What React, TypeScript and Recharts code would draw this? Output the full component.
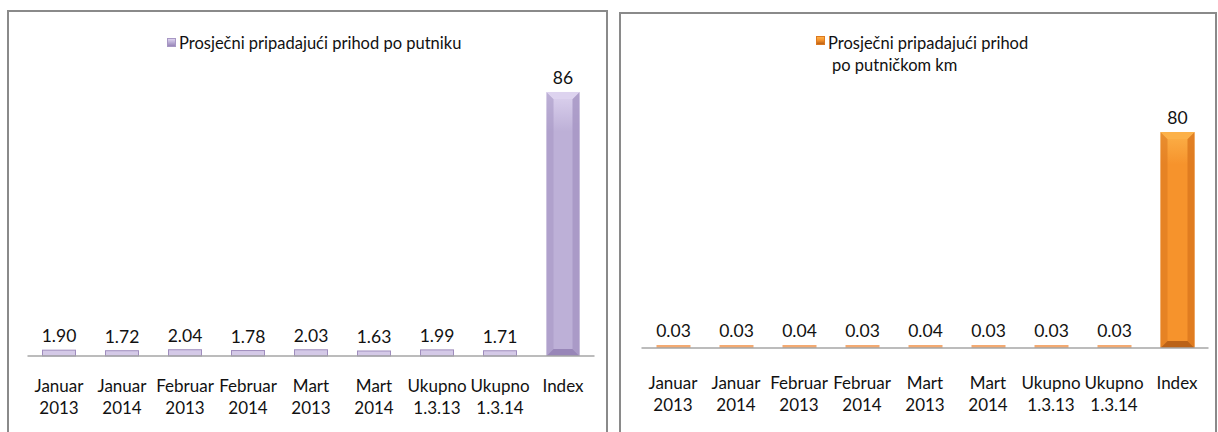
import { Bar, BarChart, LabelList, Legend, XAxis, YAxis } from "recharts";

const categories = [
  "Januar 2013",
  "Januar 2014",
  "Februar 2013",
  "Februar 2014",
  "Mart 2013",
  "Mart 2014",
  "Ukupno 1.3.13",
  "Ukupno 1.3.14",
  "Index",
];
const perPassenger = [1.9, 1.72, 2.04, 1.78, 2.03, 1.63, 1.99, 1.71, 86];
const perPassengerKm = [0.03, 0.03, 0.04, 0.03, 0.04, 0.03, 0.03, 0.03, 80];

const leftData = categories.map((name, i) => ({ name, value: perPassenger[i] }));
const rightData = categories.map((name, i) => ({ name, value: perPassengerKm[i] }));

const FONT = "Lato, 'Open Sans', sans-serif";

const fmt = (v: number) => (v >= 10 ? String(Math.round(v)) : v.toFixed(2));

type Palette = {
  id: string;
  center: string;
  side: string;
  top: string;
  bottom: string;
  small: string;
  smallStroke?: string;
};

const lavender: Palette = {
  id: "lav",
  center: "#bdb0d7",
  side: "#a797c4",
  top: "#ddd3ef",
  bottom: "#9886b8",
  small: "#d4c9e7",
  smallStroke: "#9f8dbd",
};

const orange: Palette = {
  id: "org",
  center: "#f6932c",
  side: "#dc781f",
  top: "#fcb149",
  bottom: "#bb6217",
  small: "#f3aa72",
};

const makeShape = (p: Palette) => (props: any) => {
  const { x, y, width: w, height: h } = props;
  if (h < 10) {
    return (
      <rect
        x={x}
        y={y}
        width={w}
        height={h}
        fill={p.small}
        stroke={p.smallStroke || "none"}
        strokeWidth={1}
      />
    );
  }
  const b = 7;
  return (
    <g>
      <rect x={x} y={y} width={w} height={h} fill={`url(#${p.id}-body)`} />
      <polygon
        points={`${x},${y} ${x + b},${y + b} ${x + b},${y + h - b} ${x},${y + h}`}
        fill={p.side}
        opacity={0.6}
      />
      <polygon
        points={`${x + w},${y} ${x + w - b},${y + b} ${x + w - b},${y + h - b} ${x + w},${y + h}`}
        fill={p.side}
        opacity={0.85}
      />
      <polygon
        points={`${x},${y} ${x + w},${y} ${x + w - b},${y + b} ${x + b},${y + b}`}
        fill={p.top}
      />
      <polygon
        points={`${x},${y + h} ${x + b},${y + h - b} ${x + w - b},${y + h - b} ${x + w},${y + h}`}
        fill={p.bottom}
      />
    </g>
  );
};

const Gradient = ({ p }: { p: Palette }) => (
  <defs>
    <linearGradient id={`${p.id}-body`} x1="0" y1="0" x2="0" y2="1">
      <stop offset="0%" stopColor={p.top} />
      <stop offset="15%" stopColor={p.center} />
      <stop offset="100%" stopColor={p.center} />
    </linearGradient>
  </defs>
);

const TwoLineTick = (props: any) => {
  const { x, y, payload, first, gap } = props;
  const [a, ...rest] = String(payload.value).split(" ");
  return (
    <text x={x} y={y} textAnchor="middle" fontFamily={FONT} fontSize={17} fill="#111">
      <tspan x={x} dy={first}>
        {a}
      </tspan>
      {rest.length > 0 && (
        <tspan x={x} dy={gap}>
          {rest.join(" ")}
        </tspan>
      )}
    </text>
  );
};

const Marker = ({ p }: { p: Palette }) => (
  <div
    style={{
      width: 9,
      height: 9,
      background: `linear-gradient(${p.top}, ${p.center} 45%, ${p.bottom})`,
      border: `1px solid ${p.side}`,
      boxSizing: "border-box",
    }}
  />
);

const LeftLegend = () => (
  <div style={{ position: "relative", height: 40, width: 610, fontFamily: FONT }}>
    <div style={{ position: "absolute", left: 167, top: 29 }}>
      <Marker p={lavender} />
    </div>
    <div
      style={{
        position: "absolute",
        left: 179,
        top: 24,
        fontSize: 16.5,
        lineHeight: "20px",
        color: "#111",
        whiteSpace: "nowrap",
      }}
    >
      Prosječni pripadajući prihod po putniku
    </div>
  </div>
);

const RightLegend = () => (
  <div style={{ position: "relative", height: 70, width: 608, fontFamily: FONT }}>
    <div style={{ position: "absolute", left: 206, top: 28 }}>
      <Marker p={orange} />
    </div>
    <div
      style={{
        position: "absolute",
        left: 218,
        top: 24,
        fontSize: 16.5,
        lineHeight: "22px",
        color: "#111",
        whiteSpace: "nowrap",
      }}
    >
      <div>Prosječni pripadajući prihod</div>
      <div style={{ paddingLeft: 4 }}>po putničkom km</div>
    </div>
  </div>
);

const labelStyle = { fontFamily: FONT, fontSize: 17.5, fill: "#111" };

const App = () => {
  return (
    <div
      style={{
        position: "absolute",
        left: 0,
        top: 0,
        width: 1218,
        height: 432,
        overflow: "hidden",
        background: "#fff",
      }}
    >
      <div
        style={{
          position: "absolute",
          left: 7,
          top: 10,
          width: 601,
          height: 440,
          border: "2px solid #8a8a8a",
          boxSizing: "border-box",
        }}
      />
      <div
        style={{
          position: "absolute",
          left: 619,
          top: 12,
          width: 598,
          height: 440,
          border: "2px solid #8a8a8a",
          boxSizing: "border-box",
        }}
      />

      <div style={{ position: "absolute", left: 0, top: 0 }}>
        <BarChart
          width={610}
          height={432}
          data={leftData}
          margin={{ top: 9, right: 15.5, left: 27.5, bottom: 6 }}
        >
          <Gradient p={lavender} />
          <Legend
            verticalAlign="top"
            content={() => <LeftLegend />}
            wrapperStyle={{ left: 0, top: 9, width: 610 }}
          />
          <XAxis
            dataKey="name"
            height={70}
            interval={0}
            tickLine={false}
            tickSize={0}
            tickMargin={0}
            axisLine={{ stroke: "#a6a6a6", strokeWidth: 1.5 }}
            tick={<TwoLineTick first={36} gap={22} />}
          />
          <YAxis hide domain={[0, 100]} />
          <Bar
            dataKey="value"
            barSize={33}
            shape={makeShape(lavender)}
            isAnimationActive={false}
          >
            <LabelList dataKey="value" position="top" offset={8} formatter={fmt} style={labelStyle} />
          </Bar>
        </BarChart>
      </div>

      <div style={{ position: "absolute", left: 610, top: 0 }}>
        <BarChart
          width={608}
          height={432}
          data={rightData}
          margin={{ top: 8, right: 9.5, left: 31.5, bottom: 6 }}
        >
          <Gradient p={orange} />
          <Legend
            verticalAlign="top"
            content={() => <RightLegend />}
            wrapperStyle={{ left: 0, top: 8, width: 608 }}
          />
          <XAxis
            dataKey="name"
            height={78}
            interval={0}
            tickLine={false}
            tickSize={0}
            tickMargin={0}
            axisLine={{ stroke: "#a6a6a6", strokeWidth: 1.5 }}
            tick={<TwoLineTick first={41} gap={22} />}
          />
          <YAxis hide domain={[0, 100]} />
          <Bar
            dataKey="value"
            barSize={34}
            minPointSize={3}
            shape={makeShape(orange)}
            isAnimationActive={false}
          >
            <LabelList dataKey="value" position="top" offset={8} formatter={fmt} style={labelStyle} />
          </Bar>
        </BarChart>
      </div>
    </div>
  );
};

export default App;
